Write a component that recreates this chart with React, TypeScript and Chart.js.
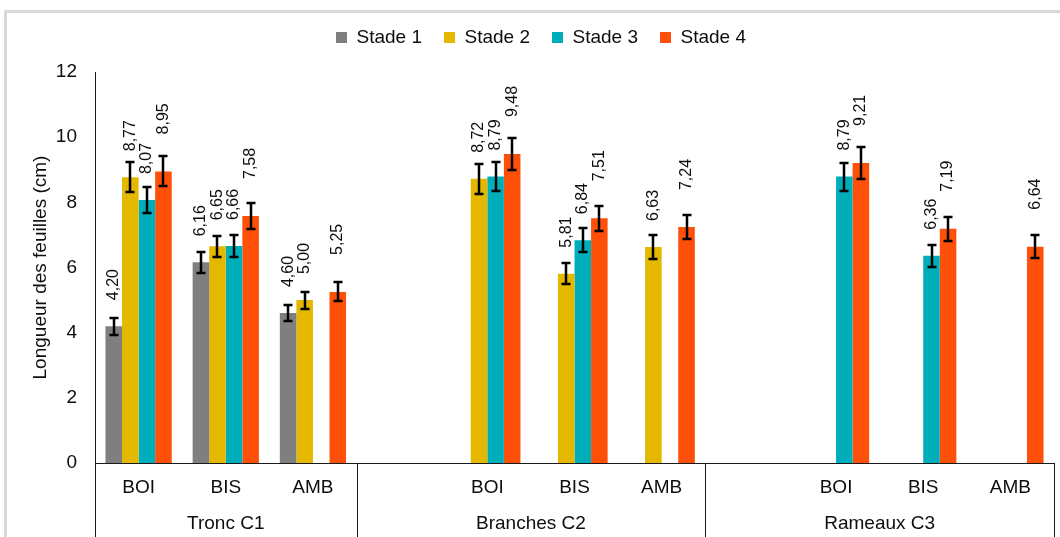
import React, { useEffect, useRef } from "react";
import { Chart, registerables } from "chart.js";

Chart.register(...registerables);

// ---------- data ----------
const categories = ["BOI", "BIS", "AMB", "", "BOI", "BIS", "AMB", "", "BOI", "BIS", "AMB"];
const groupLabels = ["Tronc C1", "Branches C2", "Rameaux C3"];
const groupStarts = [0, 3, 7];
const seriesNames = ["Stade 1", "Stade 2", "Stade 3", "Stade 4"];

const stade1 = [4.2, 6.16, 4.6, null, null, null, null, null, null, null, null];
const stade2 = [8.77, 6.65, 5.0, null, 8.72, 5.81, 6.63, null, null, null, null];
const stade3 = [8.07, 6.66, null, null, 8.79, 6.84, null, null, 8.79, 6.36, null];
const stade4 = [8.95, 7.58, 5.25, null, 9.48, 7.51, 7.24, null, 9.21, 7.19, 6.64];

const err1 = [0.26, 0.33, 0.25, null, null, null, null, null, null, null, null];
const err2 = [0.46, 0.32, 0.26, null, 0.45, 0.32, 0.36, null, null, null, null];
const err3 = [0.41, 0.33, null, null, 0.44, 0.36, null, null, 0.43, 0.34, null];
const err4 = [0.46, 0.4, 0.29, null, 0.49, 0.38, 0.38, null, 0.49, 0.37, 0.35];

const yMin = 0;
const yMax = 12;
const yStep = 2;
const yTitle = "Longueur des feuilles (cm)";

// ---------- styles ----------
const FONT = "'Liberation Sans', Arial, Helvetica, sans-serif";
const TEXT = "#0d0d0d";
const colors = ["#7f7f7f", "#e5b800", "#00adba", "#ff500a"];
const labelGaps = [26, 26, 26, 37];

const fmt = (v: number) => v.toFixed(2).replace(".", ",");

const legendHeightPlugin = {
  id: "legendHeight",
  beforeInit(chart: any) {
    const legend = chart.legend;
    if (!legend) return;
    const orig = legend.fit;
    legend.fit = function () {
      orig.call(this);
      this.height = 66;
    };
  },
};

const annotatePlugin = {
  id: "annotate",
  afterDatasetsDraw(chart: any) {
    const ctx = chart.ctx;
    const yScale = chart.scales.y;
    chart.data.datasets.forEach((ds: any, di: number) => {
      const meta = chart.getDatasetMeta(di);
      if (meta.hidden) return;
      meta.data.forEach((bar: any, i: number) => {
        const v = ds.data[i];
        if (v == null) return;
        const e = ds.errors[i];
        const bx = Math.round(bar.x);
        if (e != null) {
          const yt = Math.round(yScale.getPixelForValue(v + e));
          const yb = Math.round(yScale.getPixelForValue(v - e));
          ctx.save();
          ctx.strokeStyle = "#000";
          ctx.lineWidth = 2.5;
          ctx.beginPath();
          ctx.moveTo(bx, yt);
          ctx.lineTo(bx, yb);
          ctx.moveTo(bx - 4.5, yt);
          ctx.lineTo(bx + 4.5, yt);
          ctx.moveTo(bx - 4.5, yb);
          ctx.lineTo(bx + 4.5, yb);
          ctx.stroke();
          ctx.restore();
        }
        ctx.save();
        ctx.translate(bar.x, bar.y - ds.labelGap);
        ctx.rotate(-Math.PI / 2);
        ctx.font = `16px ${FONT}`;
        ctx.fillStyle = TEXT;
        ctx.textAlign = "left";
        ctx.textBaseline = "middle";
        ctx.fillText(fmt(v), 0, 0);
        ctx.restore();
      });
    });
  },
  afterDraw(chart: any) {
    const ctx = chart.ctx;
    const xs = chart.scales.x;
    const area = chart.chartArea;
    const n = categories.length;
    const boundary = (idx: number) => {
      if (idx <= 0) return area.left;
      if (idx >= n) return area.right;
      return (xs.getPixelForValue(idx - 1) + xs.getPixelForValue(idx)) / 2;
    };
    const bottom = chart.height;
    ctx.save();
    ctx.strokeStyle = "#1a1a1a";
    ctx.lineWidth = 1;
    const edges = [...groupStarts, n];
    edges.forEach((idx) => {
      const x = Math.round(boundary(idx)) + 0.5;
      ctx.beginPath();
      ctx.moveTo(x, area.bottom);
      ctx.lineTo(x, bottom);
      ctx.stroke();
    });
    ctx.font = `19px ${FONT}`;
    ctx.fillStyle = TEXT;
    ctx.textAlign = "center";
    ctx.textBaseline = "middle";
    groupLabels.forEach((g, gi) => {
      const x0 = boundary(edges[gi]);
      const x1 = boundary(edges[gi + 1]);
      ctx.fillText(g, (x0 + x1) / 2, area.bottom + 61);
    });
    ctx.restore();
  },
};

export default function App() {
  const ref = useRef<HTMLCanvasElement | null>(null);

  useEffect(() => {
    if (!ref.current) return;
    const series = [stade1, stade2, stade3, stade4];
    const errs = [err1, err2, err3, err4];
    const chart = new Chart(ref.current, {
      type: "bar",
      data: {
        labels: categories,
        datasets: series.map((d, i) => ({
          label: seriesNames[i],
          data: d,
          errors: errs[i],
          labelGap: labelGaps[i],
          backgroundColor: colors[i],
          borderWidth: 0,
          categoryPercentage: 0.76,
          barPercentage: 1,
        })) as any,
      },
      options: {
        responsive: false,
        animation: false,
        devicePixelRatio: 1,
        layout: { padding: { top: 6, left: 28, right: 6, bottom: 0 } },
        plugins: {
          legend: {
            display: true,
            position: "top",
            align: "center",
            labels: {
              boxWidth: 11,
              boxHeight: 11,
              padding: 22,
              color: TEXT,
              font: { family: FONT, size: 19 },
            },
          },
          tooltip: { enabled: false },
        },
        scales: {
          x: {
            type: "category",
            offset: true,
            grid: { display: false, drawTicks: false },
            border: { display: true, color: "#1a1a1a", width: 1 },
            ticks: {
              color: TEXT,
              font: { family: FONT, size: 19 },
              padding: 13,
              maxRotation: 0,
              autoSkip: false,
            },
            afterFit: (s: any) => {
              s.height = 74;
            },
          } as any,
          y: {
            min: yMin,
            max: yMax,
            grid: { display: false, drawTicks: false },
            border: { display: true, color: "#1a1a1a", width: 1 },
            ticks: {
              stepSize: yStep,
              color: TEXT,
              font: { family: FONT, size: 19 },
              padding: 18,
            },
            title: {
              display: true,
              text: yTitle,
              color: TEXT,
              font: { family: FONT, size: 19 },
              padding: { top: 1, bottom: 0 },
            },
            afterFit: (s: any) => {
              s.width = 67;
            },
          } as any,
        },
      },
      plugins: [legendHeightPlugin, annotatePlugin],
    });
    return () => chart.destroy();
  }, []);

  return (
    <div
      style={{
        position: "fixed",
        left: 0,
        top: 0,
        width: 1060,
        height: 537,
        overflow: "hidden",
        background: "#ffffff",
      }}
    >
      <div
        style={{
          position: "absolute",
          left: 4,
          top: 10,
          width: 1200,
          height: 700,
          border: "3px solid #d9d9d9",
          boxSizing: "border-box",
        }}
      />
      <canvas
        ref={ref}
        width={1060}
        height={537}
        style={{ position: "absolute", left: 0, top: 0, width: 1060, height: 537 }}
      />
    </div>
  );
}
